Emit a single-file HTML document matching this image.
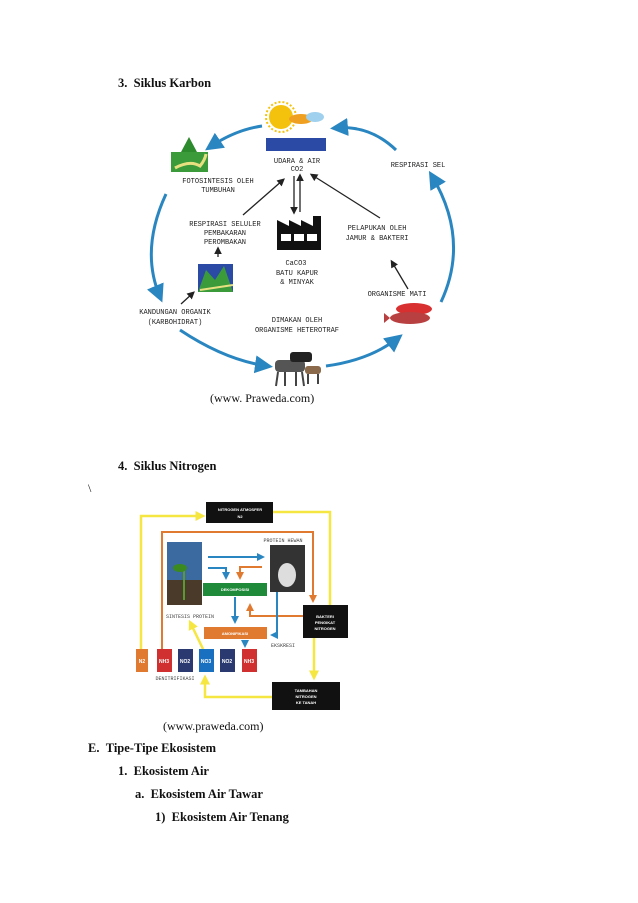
<!DOCTYPE html>
<html><head><meta charset="utf-8"><style>
body{margin:0;background:#fff;width:638px;height:903px;position:relative;overflow:hidden;font-family:"Liberation Serif",serif;}
.t{position:absolute;font-size:12.5px;font-weight:bold;color:#111;white-space:nowrap;}
.n{position:absolute;font-size:12px;color:#111;white-space:nowrap;}
svg{position:absolute;left:0;top:0;}
.m{font-family:"Liberation Mono",monospace;font-size:7px;fill:#222;text-anchor:middle;}
.w{font-family:"Liberation Sans",sans-serif;font-size:4px;fill:#fff;font-weight:bold;text-anchor:middle;}
</style></head><body>
<div class="t" style="left:118px;top:76px">3.&nbsp;&nbsp;Siklus Karbon</div>
<div class="n" style="left:210px;top:391px">(www. Praweda.com)</div>
<div class="t" style="left:118px;top:459px">4.&nbsp;&nbsp;Siklus Nitrogen</div>
<div class="n" style="left:88px;top:481px">\</div>
<div class="n" style="left:163px;top:719px">(www.praweda.com)</div>
<div class="t" style="left:88px;top:741px">E.&nbsp;&nbsp;Tipe-Tipe Ekosistem</div>
<div class="t" style="left:118px;top:764px">1.&nbsp;&nbsp;Ekosistem Air</div>
<div class="t" style="left:135px;top:787px">a.&nbsp;&nbsp;Ekosistem Air Tawar</div>
<div class="t" style="left:155px;top:810px">1)&nbsp;&nbsp;Ekosistem Air Tenang</div>
<svg width="638" height="903">
<defs>
<marker id="ab" markerWidth="6" markerHeight="6" refX="4" refY="3" orient="auto"><path d="M0,0L6,3L0,6z" fill="#2a86c0"/></marker>
<marker id="ak" markerWidth="6" markerHeight="6" refX="4" refY="3" orient="auto"><path d="M0,0L6,3L0,6z" fill="#222"/></marker>
<marker id="ay" markerWidth="4" markerHeight="4" refX="3" refY="2" orient="auto"><path d="M0,0L4,2L0,4z" fill="#f5e642"/></marker>
<marker id="ao" markerWidth="4" markerHeight="4" refX="3" refY="2" orient="auto"><path d="M0,0L4,2L0,4z" fill="#e07a30"/></marker>
<marker id="ac" markerWidth="4" markerHeight="4" refX="3" refY="2" orient="auto"><path d="M0,0L4,2L0,4z" fill="#2a86c0"/></marker>
</defs>
<g fill="none" stroke="#2a86c0" stroke-width="3">
<path d="M262,126 Q235,130 210,147" marker-end="url(#ab)"/>
<path d="M166,194 Q140,250 160,297" marker-end="url(#ab)"/>
<path d="M180,330 Q225,360 267,366" marker-end="url(#ab)"/>
<path d="M326,366 Q370,360 398,338" marker-end="url(#ab)"/>
<path d="M441,302 Q470,240 432,176" marker-end="url(#ab)"/>
<path d="M396,150 Q370,125 336,128" marker-end="url(#ab)"/>
</g>
<circle cx="281" cy="117" r="12" fill="#f4c20d"/>
<circle cx="281" cy="117" r="15" fill="none" stroke="#f4c20d" stroke-width="2" stroke-dasharray="2 2"/>
<ellipse cx="301" cy="119" rx="12" ry="5" fill="#f0a020"/>
<ellipse cx="315" cy="117" rx="9" ry="5" fill="#9fd0ee"/>
<rect x="266" y="138" width="60" height="13" fill="#2a4aa6"/>
<rect x="171" y="152" width="37" height="20" fill="#3b9b3b"/>
<path d="M175,168 Q190,160 200,166 Q205,160 206,154" stroke="#e8e080" stroke-width="3" fill="none"/>
<path d="M189,137 L181,152 L197,152z" fill="#2d8a2d"/>
<path d="M277,232 L277,220 L289,226 L289,220 L301,226 L301,220 L313,226 L313,216 L321,216 L321,250 L277,250z" fill="#111"/>
<rect x="281" y="234" width="10" height="7" fill="#fff"/><rect x="294" y="234" width="10" height="7" fill="#fff"/><rect x="307" y="234" width="10" height="7" fill="#fff"/>
<rect x="198" y="264" width="35" height="28" fill="#2a4aa6"/>
<path d="M198,292 L206,270 L215,280 L224,266 L233,292z" fill="#3b9b3b"/>
<path d="M200,290 L233,285" stroke="#e8e080" stroke-width="2"/>
<ellipse cx="414" cy="309" rx="18" ry="6" fill="#d83030"/>
<ellipse cx="410" cy="318" rx="20" ry="6" fill="#b84040"/>
<path d="M390,318 l-6,-5 l0,10z" fill="#b84040"/>
<rect x="275" y="360" width="30" height="12" fill="#555" rx="4"/>
<rect x="290" y="352" width="22" height="10" fill="#222" rx="3"/>
<rect x="305" y="366" width="16" height="8" fill="#8a6a4a" rx="3"/>
<path d="M278,372 l-2,14 M285,372 l0,14 M296,372 l0,14 M302,372 l2,14 M308,374 l0,10 M318,374 l0,10" stroke="#444" stroke-width="2"/>
<g stroke="#222" stroke-width="1.3" fill="none">
<path d="M243,215 L283,180" marker-end="url(#ak)"/>
<path d="M294,176 L294,212" marker-end="url(#ak)"/>
<path d="M300,212 L300,176" marker-end="url(#ak)"/>
<path d="M380,218 L312,175" marker-end="url(#ak)"/>
<path d="M218,257 L218,249" marker-end="url(#ak)"/>
<path d="M181,304 L193,293" marker-end="url(#ak)"/>
<path d="M408,289 L392,262" marker-end="url(#ak)"/>
</g>
<g class="m">
<text x="297" y="163">UDARA &amp; AIR</text><text x="297" y="171">CO2</text>
<text x="218" y="183">FOTOSINTESIS OLEH</text><text x="218" y="192">TUMBUHAN</text>
<text x="418" y="167">RESPIRASI SEL</text>
<text x="225" y="226">RESPIRASI SELULER</text><text x="225" y="235">PEMBAKARAN</text><text x="225" y="244">PEROMBAKAN</text>
<text x="296" y="265">CaCO3</text><text x="297" y="275">BATU KAPUR</text><text x="297" y="284">&amp; MINYAK</text>
<text x="377" y="230">PELAPUKAN OLEH</text><text x="377" y="240">JAMUR &amp; BAKTERI</text>
<text x="397" y="296">ORGANISME MATI</text>
<text x="175" y="314">KANDUNGAN ORGANIK</text><text x="175" y="324">(KARBOHIDRAT)</text>
<text x="297" y="322">DIMAKAN OLEH</text><text x="297" y="332">ORGANISME HETEROTRAF</text>
</g>
<g fill="none" stroke="#f5e642" stroke-width="2.5">
<path d="M141,649 L141,516 L203,516" marker-end="url(#ay)"/>
<path d="M273,512 L330,512 L330,605"/>
<path d="M314,638 L314,678" marker-end="url(#ay)"/>
<path d="M272,697 L205,697 L205,677" marker-end="url(#ay)"/>
<path d="M203,649 L190,622" marker-end="url(#ay)"/>
</g>
<g fill="none" stroke="#e07a30" stroke-width="2">
<path d="M162,650 L162,532 L313,532 L313,601" marker-end="url(#ao)"/>
<path d="M303,616 L250,616 L250,605" marker-end="url(#ao)"/>
<path d="M262,567 L240,567 L240,578" marker-end="url(#ao)"/>
</g>
<g fill="none" stroke="#2a86c0" stroke-width="2">
<path d="M208,557 L263,557" marker-end="url(#ac)"/>
<path d="M208,568 L226,568 L226,578" marker-end="url(#ac)"/>
<path d="M235,597 L235,622" marker-end="url(#ac)"/>
<path d="M277,590 L277,635 L272,635" marker-end="url(#ac)"/>
<path d="M245,640 L245,646" marker-end="url(#ac)"/>
</g>
<rect x="206" y="502" width="67" height="21" fill="#111"/>
<text class="w" x="240" y="511">NITROGEN ATMOSFER</text><text class="w" x="240" y="518">N2</text>
<rect x="167" y="542" width="35" height="63" fill="#3a6aa0"/>
<rect x="167" y="580" width="35" height="25" fill="#4a3a2a"/>
<path d="M184,600 L184,570" stroke="#5a9a30" stroke-width="2"/><ellipse cx="180" cy="568" rx="7" ry="4" fill="#3a8a20"/>
<rect x="270" y="545" width="35" height="47" fill="#333"/>
<ellipse cx="287" cy="575" rx="9" ry="12" fill="#ddd"/>
<rect x="203" y="583" width="64" height="13" fill="#1f8a3a"/>
<text class="w" x="235" y="591">DEKOMPOSISI</text>
<rect x="204" y="627" width="63" height="12" fill="#e07a30"/>
<text class="w" x="235" y="635">AMONIFIKASI</text>
<rect x="303" y="605" width="45" height="33" fill="#111"/>
<text class="w" x="325" y="618">BAKTERI</text><text class="w" x="325" y="624">PENGIKAT</text><text class="w" x="325" y="630">NITROGEN</text>
<rect x="272" y="682" width="68" height="28" fill="#111"/>
<text class="w" x="306" y="692">TAMBAHAN</text><text class="w" x="306" y="698">NITROGEN</text><text class="w" x="306" y="704">KE TANAH</text>
<rect x="136" y="649" width="12" height="23" fill="#e07a30"/>
<rect x="157" y="649" width="15" height="23" fill="#d03030"/>
<rect x="178" y="649" width="15" height="23" fill="#2a3a70"/>
<rect x="199" y="649" width="15" height="23" fill="#1a70c0"/>
<rect x="220" y="649" width="15" height="23" fill="#2a3a70"/>
<rect x="242" y="649" width="15" height="23" fill="#d03030"/>
<g class="w" style="font-size:5px"><text x="142" y="663">N2</text><text x="164" y="663">NH3</text><text x="185" y="663">NO2</text><text x="206" y="663">NO3</text><text x="227" y="663">NO2</text><text x="249" y="663">NH3</text></g>
<g style="font-family:'Liberation Mono',monospace;font-size:5px;fill:#444;text-anchor:middle">
<text x="190" y="618">SINTESIS PROTEIN</text><text x="283" y="542">PROTEIN HEWAN</text><text x="283" y="647">EKSKRESI</text><text x="175" y="680">DENITRIFIKASI</text>
</g>
</svg>
</body></html>
